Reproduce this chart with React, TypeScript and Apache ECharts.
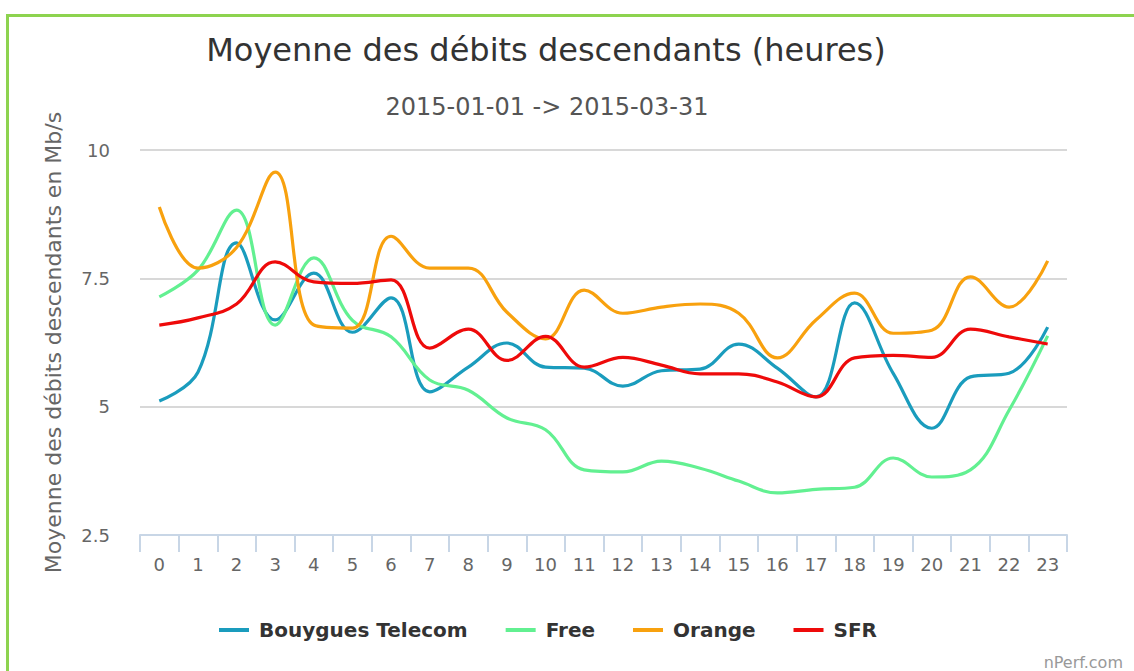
import React, { useEffect, useRef } from "react";
import * as echarts from "echarts";

const hours = ["0","1","2","3","4","5","6","7","8","9","10","11","12","13","14","15","16","17","18","19","20","21","22","23"];
const bouygues = [5.11, 5.67, 8.19, 6.69, 7.6, 6.45, 7.12, 5.29, 5.77, 6.24, 5.77, 5.75, 5.4, 5.7, 5.73, 6.22, 5.75, 5.19, 7.02, 5.65, 4.58, 5.58, 5.65, 6.55];
const free = [7.14, 7.66, 8.83, 6.59, 7.9, 6.68, 6.36, 5.52, 5.32, 4.78, 4.55, 3.77, 3.73, 3.94, 3.8, 3.55, 3.32, 3.39, 3.43, 4.0, 3.63, 3.77, 4.93, 6.38];
const orange = [8.89, 7.7, 8.1, 9.57, 6.59, 6.53, 8.32, 7.7, 7.7, 6.84, 6.32, 7.27, 6.82, 6.94, 7.0, 6.82, 5.95, 6.69, 7.21, 6.43, 6.49, 7.53, 6.94, 7.84];
const sfr = [6.59, 6.73, 7.0, 7.82, 7.43, 7.4, 7.47, 6.14, 6.51, 5.9, 6.37, 5.77, 5.96, 5.81, 5.64, 5.64, 5.48, 5.19, 5.95, 6.0, 5.96, 6.51, 6.36, 6.22];
const seriesNames = ["Bouygues Telecom", "Free", "Orange", "SFR"];
const seriesColors = ["#1a9cbd", "#62f091", "#f8a10e", "#ee0a0a"];
const yTicks = { min: 2.5, max: 10, interval: 2.5 };
const titleText = "Moyenne des débits descendants (heures)";
const subtitleText = "2015-01-01 -> 2015-03-31";
const yAxisName = "Moyenne des débits descendants en Mb/s";
const creditText = "nPerf.com";

const FONT = "'DejaVu Sans', sans-serif";

export default function App() {
  const ref = useRef<HTMLDivElement>(null);
  useEffect(() => {
    if (!ref.current) return;
    const chart = echarts.init(ref.current, null, { renderer: "svg" });
    const data = [bouygues, free, orange, sfr];
    chart.setOption({
      animation: false,
      backgroundColor: "#ffffff",
      grid: { left: 140, right: 67, top: 150, bottom: 136, containLabel: false },
      legend: {
        left: 214,
        top: 615,
        icon: "rect",
        itemWidth: 30,
        itemHeight: 4,
        itemGap: 38,
        data: seriesNames,
        textStyle: { fontFamily: FONT, fontSize: 20, fontWeight: "bold", color: "#333333", padding: [0, 0, 0, 5] },
      },
      xAxis: {
        type: "category",
        data: hours,
        boundaryGap: true,
        axisLine: { lineStyle: { color: "#c8d6e6", width: 2 } },
        axisTick: { show: true, length: 17, lineStyle: { color: "#c8d6e6", width: 2 } },
        axisLabel: { color: "#666666", fontFamily: FONT, fontSize: 18, margin: 20, interval: 0 },
        splitLine: { show: false },
      },
      yAxis: {
        type: "value",
        min: yTicks.min,
        max: yTicks.max,
        interval: yTicks.interval,
        name: yAxisName,
        nameLocation: "middle",
        nameGap: 76,
        nameTextStyle: { color: "#666666", fontFamily: FONT, fontSize: 22 },
        axisLine: { show: false },
        axisTick: { show: false },
        axisLabel: { color: "#666666", fontFamily: FONT, fontSize: 18, margin: 30 },
        splitLine: { lineStyle: { color: "#d8d8d8", width: 2 } },
      },
      series: seriesNames.map((name, i) => ({
        name,
        type: "line",
        data: data[i],
        smooth: 0.4,
        showSymbol: false,
        symbol: "none",
        color: seriesColors[i],
        lineStyle: { width: 3.2, color: seriesColors[i] },
      })),
      graphic: [
        {
          type: "polyline",
          silent: true,
          shape: { points: [[7.5, 671], [7.5, 15.5], [1134, 15.5]] },
          style: { stroke: "#8dd34f", lineWidth: 3, fill: "none" },
        },
        {
          type: "text",
          x: 546,
          y: 50,
          style: { text: titleText, align: "center", verticalAlign: "middle", font: `32px ${FONT}`, fill: "#333333" },
        },
        {
          type: "text",
          x: 547,
          y: 107,
          style: { text: subtitleText, align: "center", verticalAlign: "middle", font: `24px ${FONT}`, fill: "#555555" },
        },
        {
          type: "text",
          x: 1123,
          y: 662,
          style: { text: creditText, align: "right", verticalAlign: "middle", font: `16px ${FONT}`, fill: "#999999" },
        },
      ],
    });
    return () => chart.dispose();
  }, []);
  return <div ref={ref} style={{ position: "absolute", left: 0, top: 0, width: 1134, height: 671 }} />;
}
